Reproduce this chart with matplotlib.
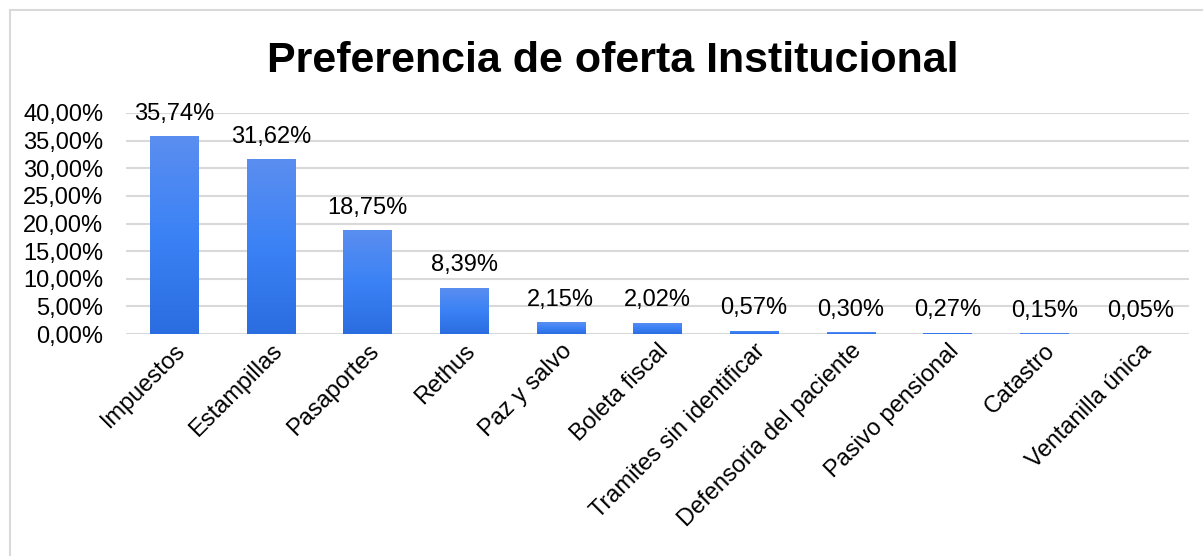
import numpy as np
import matplotlib.pyplot as plt
from matplotlib.patches import Rectangle
from matplotlib.colors import LinearSegmentedColormap

plt.rcParams['font.family'] = ['Liberation Sans', 'DejaVu Sans']

categories = ['Impuestos', 'Estampillas', 'Pasaportes', 'Rethus', 'Paz y salvo',
              'Boleta fiscal', 'Tramites sin identificar', 'Defensoria del paciente',
              'Pasivo pensional', 'Catastro', 'Ventanilla única']
values = [35.74, 31.62, 18.75, 8.39, 2.15, 2.02, 0.57, 0.30, 0.27, 0.15, 0.05]
yticks = [0, 5, 10, 15, 20, 25, 30, 35, 40]


def pct(v):
    return f'{v:.2f}'.replace('.', ',') + '%'


fig = plt.figure(figsize=(12.03, 5.56), dpi=100)
fig.patches.append(Rectangle((10 / 1203, -0.01), 1.02, 1 - 10 / 556 + 0.01,
                             transform=fig.transFigure, fill=False,
                             edgecolor='#d9d9d9', linewidth=1.5))

ax = fig.add_axes([0.1045, 0.399, 0.884, 0.398])
x = np.arange(len(categories))
bars = ax.bar(x, values, width=0.5, color='none', zorder=3)

# vertical gradient in each bar
cmap = LinearSegmentedColormap.from_list('blu', ['#2a6de0', '#3b82f6', '#5b8ef0'])
grad = np.linspace(0, 1, 256).reshape(-1, 1)
for b in bars:
    x0, w, h = b.get_x(), b.get_width(), b.get_height()
    im = ax.imshow(grad, cmap=cmap, origin='lower', aspect='auto',
                   extent=[x0, x0 + w, 0, h], zorder=3)
    im.set_clip_path(b)

for xi, v in zip(x, values):
    ax.annotate(pct(v), (xi, v), xytext=(0, 12), textcoords='offset points',
                ha='center', va='baseline', fontsize=17, annotation_clip=False)

ax.set_xlim(-0.5, len(categories) - 0.5)
ax.set_ylim(0, 40)
ax.set_yticks(yticks)
ax.set_yticklabels([pct(t) for t in yticks], fontsize=17)
ax.set_xticks(x)
ax.set_xticklabels(categories, rotation=45, ha='right', rotation_mode='anchor', fontsize=17)
ax.tick_params(axis='y', length=0, pad=16)
ax.tick_params(axis='x', length=0, pad=4)
ax.grid(axis='y', color='#d9d9d9', linewidth=1.5, zorder=0)
for s in ax.spines.values():
    s.set_visible(False)

fig.text(0.509, 1 - 72 / 556, 'Preferencia de oferta Institucional', ha='center',
         va='baseline', fontsize=31, fontweight='bold')

fig.savefig('out.png', dpi=100)
